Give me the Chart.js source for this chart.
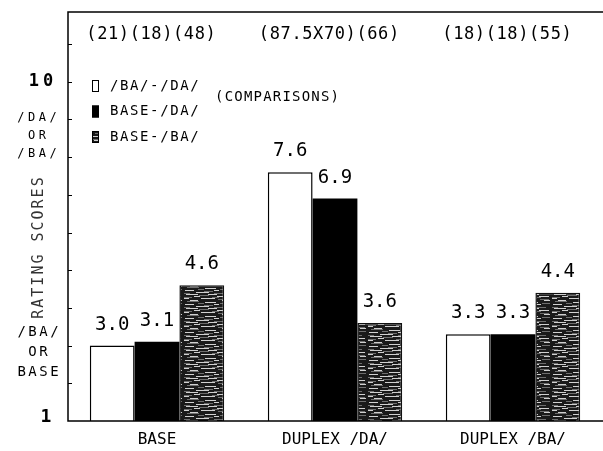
<!DOCTYPE html>
<html>
<head>
<meta charset="utf-8">
<script src="https://cdn.jsdelivr.net/npm/chart.js@4.4.1/dist/chart.umd.min.js"></script>
<style>
  html, body { margin: 0; padding: 0; background: #fff; }
  canvas { display: block; }
</style>
</head>
<body>
<canvas id="chart" width="603" height="451"></canvas>
<script>
// Rating scores per stimulus condition, one array per comparison pair
const categories = ['BASE', 'DUPLEX /DA/', 'DUPLEX /BA/'];
const seriesNames = ['/BA/-/DA/', 'BASE-/DA/', 'BASE-/BA/'];
const baDaScores = [3.0, 7.6, 3.3];
const baseDaScores = [3.1, 6.9, 3.3];
const baseBaScores = [4.6, 3.6, 4.4];
// number of comparisons, printed above each group
const comparisonCounts = ['(21)(18)(48)', '(87.5X70)(66)', '(18)(18)(55)'];
// y axis: numbered ends and the two anchor captions
const yTickValues = [1, 2, 3, 4, 5, 6, 7, 8, 9, 10, 11];
const yNumberLabels = ['1', '10'];
const yNumberValues = [1, 10];
const upperAnchor = ['/DA/', 'OR', '/BA/'];
const lowerAnchor = ['/BA/', 'OR', 'BASE'];
const axisTitle = 'RATING SCORES';
const legendNote = '(COMPARISONS)';

const FONT = '"DejaVu Sans Mono", "Liberation Mono", monospace';

// streaky dark fill used for the third series: near-black ground with
// broken grey horizontal strokes
function streakPattern() {
  const w = 46, h = 14;
  const c = document.createElement('canvas');
  c.width = w; c.height = h;
  const g = c.getContext('2d');
  g.fillStyle = '#1a1a1a';
  g.fillRect(0, 0, w, h);
  g.fillStyle = '#d0d0d0';
  const light = [[0,2,12],[0,24,9],[2,10,6],[2,33,10],[4,0,5],[4,17,14],
    [6,6,8],[6,38,6],[8,21,11],[10,1,9],[10,30,5],[12,12,13]];
  light.forEach(([y, x, len]) => g.fillRect(x, y, len, 1));
  g.fillStyle = '#6e6e6e';
  const mid = [[1,15,10],[3,0,8],[3,28,7],[5,34,9],[7,3,12],[9,14,6],[9,36,8],[11,20,9],[13,0,6],[13,30,10]];
  mid.forEach(([y, x, len]) => g.fillRect(x, y, len, 1));
  return g.createPattern(c, 'repeat');
}

function text(ctx, str, x, y, font, opts = {}) {
  ctx.save();
  ctx.font = font;
  ctx.fillStyle = opts.color || '#000';
  const align = opts.align || 'center';
  ctx.textAlign = align;
  ctx.textBaseline = opts.baseline || 'middle';
  const ls = opts.spacing || 0;
  ctx.letterSpacing = ls + 'px';
  const dx = align === 'center' ? ls / 2 : 0;
  if (opts.rotate) {
    ctx.translate(x, y);
    ctx.rotate(opts.rotate);
    ctx.fillText(str, dx, 0);
  } else {
    ctx.fillText(str, x + dx, y);
  }
  ctx.restore();
}

const framePlugin = {
  id: 'frame',
  afterDatasetsDraw(chart) {
    const { ctx, chartArea: a, scales: { y } } = chart;
    ctx.save();
    ctx.strokeStyle = '#000';
    ctx.lineWidth = 1.5;
    ctx.beginPath();
    ctx.moveTo(a.right + 1, a.top);
    ctx.lineTo(a.left, a.top);
    ctx.lineTo(a.left, a.bottom);
    ctx.lineTo(a.right + 1, a.bottom);
    ctx.stroke();
    // inward tick marks
    ctx.lineWidth = 1.2;
    ctx.beginPath();
    yTickValues.slice(1).forEach(v => {
      const py = Math.round(y.getPixelForValue(v)) + 0.5;
      ctx.moveTo(a.left, py);
      ctx.lineTo(a.left + 4, py);
    });
    ctx.stroke();
    ctx.restore();
  }
};

const labelPlugin = {
  id: 'labels',
  afterDraw(chart) {
    const { ctx, chartArea: a, scales: { x, y } } = chart;

    // y axis numbers
    yNumberLabels.forEach((s, i) => {
      const v = yNumberValues[i];
      if (v === 1) {
        text(ctx, s, 46, y.getPixelForValue(v) + 1, 'bold 18px ' + FONT, { baseline: 'alphabetic' });
      } else {
        text(ctx, s, 41, y.getPixelForValue(v), 'bold 17px ' + FONT, { spacing: 4 });
      }
    });
    // anchor captions
    const upC = y.getPixelForValue(8.57);
    upperAnchor.forEach((s, i) => {
      text(ctx, s, 37, upC + (i - 1) * 18, '12px ' + FONT, { spacing: 3.5 });
    });
    const loC = y.getPixelForValue(2.82);
    lowerAnchor.forEach((s, i) => {
      text(ctx, s, 38, loC + (i - 1) * 20, '14px ' + FONT, { spacing: 2.5 });
    });
    // axis title
    text(ctx, axisTitle, 39, (upC + loC) / 2 + 4, '15px ' + FONT,
      { spacing: 2, rotate: -Math.PI / 2, color: '#333' });

    // comparison counts above each group
    comparisonCounts.forEach((s, i) => {
      text(ctx, s, x.getPixelForValue(i) - 6, y.getPixelForValue(11.25), '17px ' + FONT, { spacing: 0.6 });
    });

    // value labels above bars
    chart.data.datasets.forEach((ds, di) => {
      chart.getDatasetMeta(di).data.forEach((bar, j) => {
        text(ctx, ds.data[j].toFixed(1), bar.x, bar.y - 16, '19px ' + FONT, { baseline: 'alphabetic' });
      });
    });

    // legend
    chart.data.datasets.forEach((ds, i) => {
      const cy = a.top + 74 + i * 25.5;
      const bx = a.left + 24;
      ctx.save();
      ctx.fillStyle = ds.backgroundColor;
      ctx.fillRect(bx, cy - 6, 7, 12);
      ctx.strokeStyle = '#000';
      ctx.lineWidth = 1;
      ctx.strokeRect(bx + 0.5, cy - 5.5, 6, 11);
      ctx.restore();
      text(ctx, ds.label, bx + 18, cy, '14px ' + FONT, { align: 'left', spacing: 1.6 });
    });
    text(ctx, legendNote, a.left + 147, a.top + 85, '14px ' + FONT, { align: 'left', spacing: 1.2 });
  }
};

const pattern = streakPattern();

new Chart(document.getElementById('chart'), {
  type: 'bar',
  data: {
    labels: categories,
    datasets: [
      { label: seriesNames[0], data: baDaScores, backgroundColor: '#ffffff', borderColor: '#000', borderWidth: 1.5 },
      { label: seriesNames[1], data: baseDaScores, backgroundColor: '#000000', borderColor: '#000', borderWidth: 0 },
      { label: seriesNames[2], data: baseBaScores, backgroundColor: pattern, borderColor: '#111', borderWidth: 1.5 }
    ]
  },
  options: {
    responsive: false,
    animation: false,
    devicePixelRatio: 1,
    layout: { padding: { left: 0, right: 1, top: 12, bottom: 0 } },
    datasets: { bar: { categoryPercentage: 0.755, barPercentage: 1.0 } },
    plugins: { legend: { display: false }, tooltip: { enabled: false } },
    scales: {
      x: {
        grid: { display: false, drawTicks: false },
        border: { display: false },
        ticks: { color: '#000', font: { family: FONT, size: 16 }, padding: 9 },
        afterFit: s => { s.height = 30; }
      },
      y: {
        min: 1,
        max: 11.85,
        grid: { display: false, drawTicks: false },
        border: { display: false },
        ticks: { display: false },
        afterFit: s => { s.width = 68; }
      }
    }
  },
  plugins: [framePlugin, labelPlugin]
});
</script>
</body>
</html>
